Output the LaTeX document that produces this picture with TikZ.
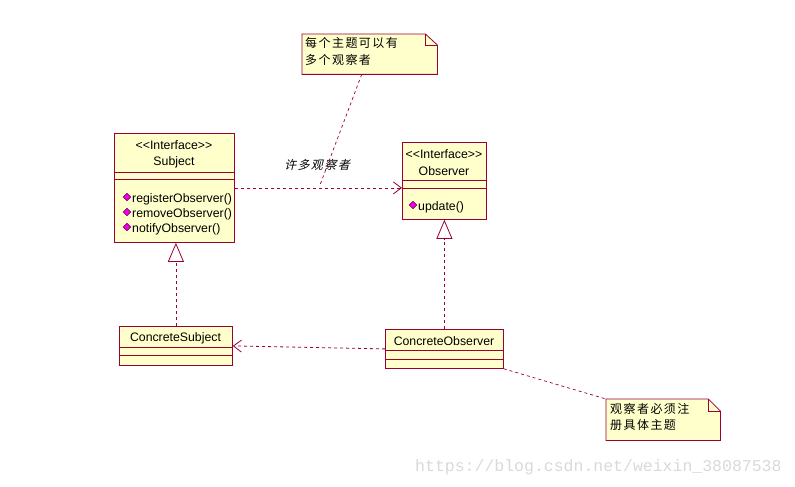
\documentclass[tikz,border=0pt]{standalone}
\usepackage{fontspec}
\setmainfont[Ligatures=NoCommon]{Liberation Sans}
\newfontfamily\cjkfont[LetterSpace=12]{Noto Sans CJK SC}
\newfontfamily\cjkslant[LetterSpace=12,FakeSlant=0.25]{Noto Sans CJK SC}
\newfontfamily\markfont{Liberation Mono}
\usetikzlibrary{arrows.meta, calc, shapes.geometric}
\definecolor{umlred}{HTML}{990033}
\definecolor{umlfill}{HTML}{FFFFCC}
\definecolor{opmagenta}{HTML}{F000F0}

\tikzset{
  classbox/.style={draw=umlred, fill=umlfill, line width=0.8pt, inner sep=0pt, anchor=north west},
  compline/.style={umlred, line width=0.8pt},
  classtext/.style={font=\fontsize{12.3}{14}\selectfont, inner sep=0pt},
  optext/.style={classtext, anchor=west},
  opicon/.style={diamond, draw=umlred!70!black, fill=opmagenta, line width=0.5pt, inner sep=0pt, minimum width=8, minimum height=7.5},
  depend/.style={umlred, line width=0.8pt, dash pattern=on 3pt off 3pt, -{Straight Barb[length=8pt, width=12pt]}},
  realize/.style={umlred, line width=0.8pt, dash pattern=on 3pt off 3pt, -{Triangle[open, fill=white, length=19pt, width=16pt]}},
  notebox/.style={inner sep=0pt, anchor=north west},
  noteline/.style={draw=umlred, fill=umlfill, line width=0.8pt},
  notetext/.style={font=\cjkfont\fontsize{12}{14}\selectfont, inner sep=0pt, anchor=west},
  notelink/.style={umlred, line width=0.7pt, dash pattern=on 3pt off 3pt},
  watermark/.style={font=\markfont\fontsize{16.5}{18}\selectfont, text=black!15, inner sep=0pt, anchor=west}
}
\newcommand{\stereo}[1]{<{}<#1>{}>}

\begin{document}
\begin{tikzpicture}[x=1pt, y=-1pt]
\useasboundingbox (0,0) rectangle (795,487);

% classes
\node[classbox, minimum width=120, minimum height=109] (subject) at (114,133) {};
\draw[compline] (114,172) -- (234,172);
\draw[compline] (114,179) -- (234,179);
\node[classtext] (subjstereo) at (174,145) {\stereo{Interface}};
\node[classtext] (subjname) at (174,162) {Subject};
\node[opicon] (op1) at (127,197) {};
\node[optext] (regobs) at (132,199) {registerObserver()};
\node[opicon] (op2) at (127,212) {};
\node[optext] (remobs) at (132,214) {removeObserver()};
\node[opicon] (op3) at (127,227) {};
\node[optext] (notobs) at (132,229) {notifyObserver()};

\node[classbox, minimum width=84, minimum height=77] (observer) at (402,142) {};
\draw[compline] (402,180) -- (486,180);
\draw[compline] (402,188) -- (486,188);
\node[classtext] (obsstereo) at (444,154) {\stereo{Interface}};
\node[classtext] (obsname) at (444,171) {Observer};
\node[opicon] (op4) at (413,205) {};
\node[optext] (update) at (418,207) {update()};

\node[classbox, minimum width=113, minimum height=39] (concsub) at (119,326) {};
\draw[compline] (119,347) -- (232,347);
\draw[compline] (119,355) -- (232,355);
\node[classtext] (concsubname) at (175.5,338) {ConcreteSubject};

\node[classbox, minimum width=118, minimum height=39] (concobs) at (385,329) {};
\draw[compline] (385,350) -- (503,350);
\draw[compline] (385,359) -- (503,359);
\node[classtext] (concobsname) at (444,341) {ConcreteObserver};

% relations
\draw[depend] (subject.east) -- (subject.east -| observer.west);
\node[font=\cjkslant\fontsize{12}{14}\selectfont, inner sep=0pt] (manylabel) at (317,165) {许多观察者};
\coordinate (manyobs) at (320,185);
\draw[realize] (concsub.north) -- (concsub.north |- subject.south);
\draw[realize] (concobs.north) -- (observer.south);
\draw[depend] (concobs.west) -- (concsub.east);

% notes
\node[notebox, minimum width=135, minimum height=40] (note1) at (302,34) {};
\draw[noteline] (note1.north west) -- ($(note1.north east)+(-12,0)$) -- ($(note1.north east)+(0,11)$)
  -- (note1.south east) -- (note1.south west) -- cycle;
\draw[compline] ($(note1.north east)+(-12,0)$) |- ($(note1.north east)+(0,11)$);
\node[notetext] (note1a) at (305,43) {每个主题可以有};
\node[notetext] (note1b) at (305,60) {多个观察者};
\draw[notelink] ([xshift=-8pt]note1.south) -- (manyobs);

\node[notebox, minimum width=114, minimum height=41] (note2) at (606,399) {};
\draw[noteline] (note2.north west) -- ($(note2.north east)+(-12,0)$) -- ($(note2.north east)+(0,12)$)
  -- (note2.south east) -- (note2.south west) -- cycle;
\draw[compline] ($(note2.north east)+(-12,0)$) |- ($(note2.north east)+(0,12)$);
\node[notetext] (note2a) at (610,409) {观察者必须注};
\node[notetext] (note2b) at (610,425) {册具体主题};
\draw[notelink] (concobs.south east) -- (note2.north west);

\node[watermark] (wmark) at (415,467) {https://blog.csdn.net/weixin\_38087538};
\end{tikzpicture}
\end{document}
